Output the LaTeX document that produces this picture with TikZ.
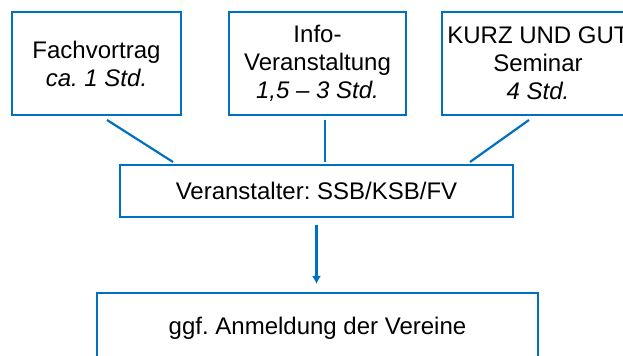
\documentclass[tikz,border=0pt]{standalone}
\usepackage{fontspec}
\setmainfont{Liberation Sans}
\usetikzlibrary{arrows.meta}
\definecolor{sblue}{RGB}{0,112,192}
\frenchspacing

\tikzstyle{main}  = [inner sep=0pt, outer sep=0pt, text centered, align=center, font=\fontsize{12}{14}\selectfont]
\tikzstyle{cbox}  = [main, draw=sblue, line width=1.35pt]
\tikzstyle{conn}  = [draw=sblue, line width=1.1pt]

\begin{document}
\begin{tikzpicture}[x=0.5pt, y=-0.5pt]
     \useasboundingbox (0,0) rectangle (623,356);
     % obere Reihe
     \node[cbox, minimum width=84.5pt, minimum height=51.5pt] (fach) at ( 96.5, 63.5) {Fachvortrag\\\textit{ca. 1 Std.}};
     \node[cbox, minimum width=88.5pt, minimum height=51.5pt] (info) at (317.5, 63.5) {Info-\\Veranstaltung\\\textit{1,5 – 3 Std.}};
     \node[cbox, minimum width=96pt,   minimum height=51.5pt] (kurz) at (538,   63.5) {KURZ UND GUT\\Seminar\\\textit{4 Std.}};
     % Mitte und unten
     \node[cbox, minimum width=196.5pt, minimum height=26pt]  (veran) at (316.5, 191) {Veranstalter: SSB/KSB/FV};
     \node[cbox, minimum width=220.5pt, minimum height=35pt]  (anm)   at (317.5, 328) {ggf. Anmeldung der Vereine};
     % Verbindungen
     \draw[conn] ([shift={(10.5,5)}]fach.south) -- ([shift={(53,-3)}]veran.north west);
     \draw[conn] ([shift={(7.5,5)}]info.south)  -- ([shift={(8.5,-3)}]veran.north);
     \draw[conn] ([shift={(-9,5)}]kurz.south)   -- ([shift={(-43,-3)}]veran.north east);
     \draw[conn, -{Latex[length=4pt, width=4.5pt]}] ([shift={(0,8)}]veran.south) -- ([shift={(0,-9)}]veran.south |- anm.north);
\end{tikzpicture}
\end{document}
